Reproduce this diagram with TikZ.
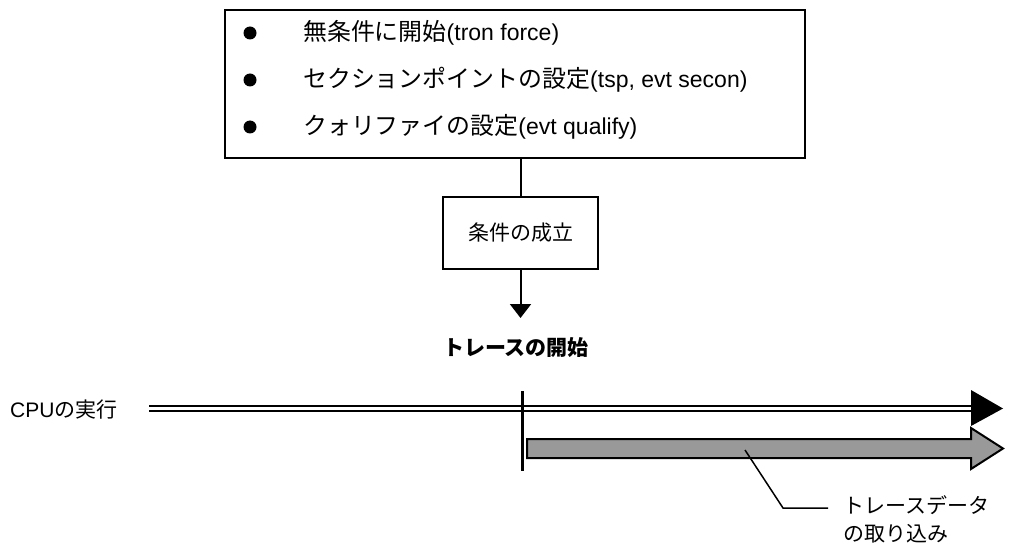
\documentclass[tikz,border=0pt]{standalone}
\usepackage{fontspec}
\setmainfont{Liberation Sans}
\newfontfamily\jp{Noto Sans CJK JP}
\newfontfamily\jpbig{Noto Sans CJK JP}[Scale=1.04]
\usetikzlibrary{arrows.meta}
\tikzset{
  box/.style={draw, line width=2pt, inner sep=0pt},
  txt/.style={inner sep=0pt, font=\fontsize{21}{28}\selectfont},
  bigtxt/.style={inner sep=0pt, font=\fontsize{23}{28}\selectfont},
  bulletdot/.style={fill=black, circle, inner sep=0pt, minimum size=13pt},
  conn/.style={line width=2pt},
}
\begin{document}
\begin{tikzpicture}[x=1pt,y=-1pt]
\useasboundingbox (0,0) rectangle (1009,548);
% top box
\node[box, minimum width=580pt, minimum height=148pt] (top) at (515,84) {};
\node[bulletdot] (b1) at (250,33) {};
\node[bulletdot] (b2) at (250,80) {};
\node[bulletdot] (b3) at (250,127) {};
\node[bigtxt, anchor=west] (t1) at (303,33) {{\jpbig 無条件に開始}(tron force)};
\node[bigtxt, anchor=west] (t2) at (303,80) {{\jpbig セクションポイントの設定}(tsp, evt secon)};
\node[bigtxt, anchor=west] (t3) at (303,127) {{\jpbig クォリファイの設定}(evt qualify)};
% condition box
\node[box, minimum width=155pt, minimum height=72pt, txt] (cond) at (520.5,233) {\jp 条件の成立};
\coordinate (arrend) at (520.5,318);
\draw[conn] (top.south -| cond.north) -- (cond.north);
\draw[conn, -{Triangle[width=21pt,length=14pt]}] (cond.south) -- (arrend);
\node[txt, font=\fontsize{21}{28}\selectfont\jp\bfseries] (start) at (516,348) {トレースの開始};
% CPU line
\node[txt, anchor=west] (cpu) at (10,410) {CPU{\jp の実行}};
\coordinate (cpuA) at (149,408.5);
\coordinate (cpuB) at (972,408.5);
\coordinate (cpuTip) at (1003,408.5);
\draw[line width=2.3pt, double=white, double distance=2.4pt] (cpuA) -- (cpuB);
\fill[black] (971,390) -- (cpuTip) -- (971,426) -- cycle;
% start tick
\coordinate (tickT) at (522,391);
\coordinate (tickB) at (522,471);
\draw[line width=3pt] (tickT) -- (tickB);
% trace data arrow
\draw[line width=2pt, fill={rgb,255:red,153;green,153;blue,153}, line join=miter]
  (527,439) -- (971,439) -- (971,428) -- (1003,448.5) -- (971,469) -- (971,458) -- (527,458) -- cycle;
\coordinate (lead) at (745,450);
\node[txt, anchor=west, align=left] (trace) at (843,519) {{\jp トレースデータ}\\{\jp の取り込み}};
\draw[line width=1.5pt] (lead) -- (783,508) -- (828,508);
\end{tikzpicture}
\end{document}
